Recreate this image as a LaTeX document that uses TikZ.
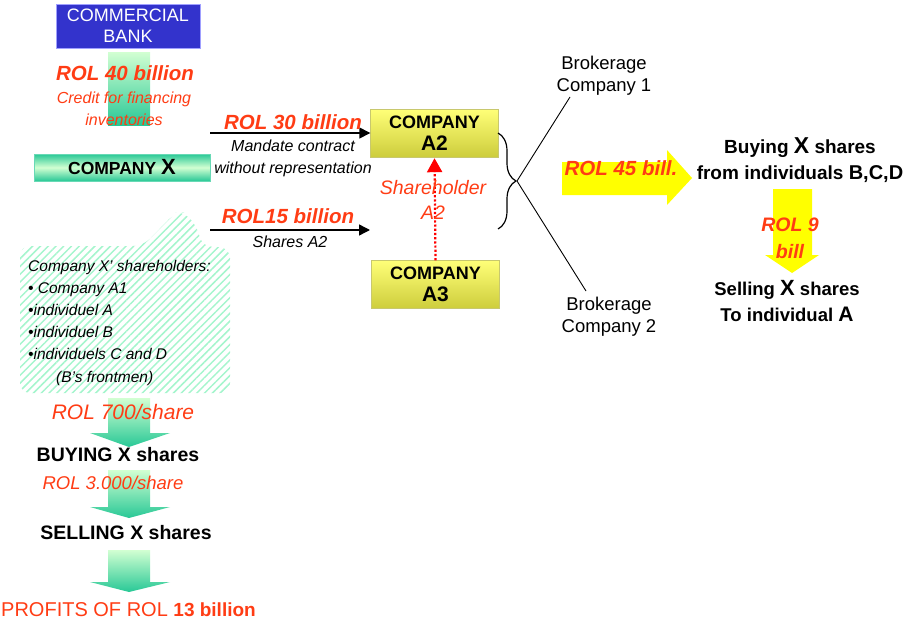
\documentclass[tikz,border=0pt]{standalone}
\usepackage{fontspec}
\setmainfont{Liberation Sans}
\usetikzlibrary{arrows.meta,decorations.pathreplacing,patterns.meta}
\definecolor{rolred}{RGB}{255,60,20}
\definecolor{bankblue}{RGB}{51,51,204}
\definecolor{bankedge}{RGB}{160,160,255}
\definecolor{lgreen}{RGB}{210,255,210}
\definecolor{dgreen}{RGB}{40,200,150}
\definecolor{hatchgreen}{RGB}{165,245,205}
\definecolor{ytop}{RGB}{255,255,120}
\definecolor{ybot}{RGB}{205,205,60}
\definecolor{yedge}{RGB}{200,200,110}
\definecolor{arrowyellow}{RGB}{255,255,0}
\newcommand\fsz[2]{\fontsize{#1}{#2}\selectfont}
\begin{document}
\begin{tikzpicture}[x=1pt,y=-1pt,
  bankbox/.style={draw=bankedge,fill=bankblue,text=white,minimum width=144pt,minimum height=44pt,inner sep=0pt,align=center,font=\fsz{18}{21}},
  cxbox/.style={top color=dgreen,bottom color=dgreen,middle color=lgreen,draw=dgreen!70,minimum width=176pt,minimum height=27pt,inner sep=0pt,font=\bfseries\fsz{17.5}{17.5}},
  ybox/.style={top color=ytop,bottom color=ybot,draw=yedge,minimum width=128pt,minimum height=48pt,inner sep=0pt,align=center,font=\bfseries\fsz{18}{22}},
  gshade/.style={top color=lgreen,bottom color=dgreen,draw=none},
  yarrow/.style={fill=arrowyellow,draw=none},
  roltxt/.style={text=rolred,font=\bfseries\itshape\fsz{20.5}{24},inner sep=0pt,align=center},
  redital/.style={text=rolred,font=\itshape\fsz{16}{22},inner sep=0pt,align=center},
  blktxt/.style={font=\itshape\fsz{16}{22},inner sep=0pt,align=center},
  brktxt/.style={font=\fsz{18.5}{22},inner sep=0pt,align=center},
  boldtxt/.style={font=\bfseries\fsz{19}{26},inner sep=0pt,align=center},
  blkarrow/.style={line width=1.4pt,-{Triangle[length=11pt,width=11pt]}},
  reddot/.style={draw=red,line width=2.2pt,dash pattern=on 2.2pt off 2pt,-{Triangle[length=14pt,width=15pt]}}
]
\useasboundingbox (0,0) rectangle (903,621);

% ---------- left column: bank -> company X
\node[bankbox] (bank) at (128,26) {COMMERCIAL\\BANK};
\fill[gshade] (108,52) rectangle (150,125);
\node[roltxt] (rol40) at (125,73) {ROL 40 billion};
\node[redital] (credit) at (124,109) {Credit for financing\\inventories};
\node[cxbox] (cx) at (122,167.5) {COMPANY {\fsz{22}{22}X}};

% ---------- callout with shareholders
\path[pattern={Lines[angle=45,distance=5.5pt,line width=1.5pt]},pattern color=hatchgreen,rounded corners=10pt]
  (20,246) -- (143,246) -- (176,212) -- (185,212) -- (199,230) -- (201,246) -- (230,248) -- (230,393) -- (20,393) -- cycle;
\node[font=\itshape\fsz{15.5}{22.2},inner sep=0pt,align=left,anchor=west] (holders) at (28,322.5)
  {Company X' shareholders:\\• Company A1\\•individuel A\\•individuel B\\•individuels C and D\\\hspace*{28pt}(B's frontmen)};

% ---------- bottom column
\path[gshade] (108,398) -- (150,398) -- (150,433) -- (170,433) -- (129,447) -- (90,433) -- (108,433) -- cycle;
\path[gshade] (108,470) -- (150,470) -- (150,507) -- (170,507) -- (129,518) -- (90,507) -- (108,507) -- cycle;
\path[gshade] (108,550) -- (150,550) -- (150,582) -- (170,582) -- (129,592) -- (90,582) -- (108,582) -- cycle;
\node[text=rolred,font=\itshape\fsz{21}{21},inner sep=0pt] (rol700) at (123,412) {ROL 700/share};
\node[boldtxt,font=\bfseries\fsz{19.5}{22}] (buyingx) at (118,455) {BUYING X shares};
\node[text=rolred,font=\itshape\fsz{18.5}{20},inner sep=0pt] (rol3000) at (113,483) {ROL 3.000/share};
\node[boldtxt,font=\bfseries\fsz{19.5}{22}] (sellingx) at (126,533) {SELLING X shares};
\node[text=rolred,font=\fsz{20}{22},inner sep=0pt] (profits) at (128.5,610) {PROFITS OF ROL {\bfseries\fsz{19}{22}13 billion}};

% ---------- companies A2 and A3
\node[ybox] (A2) at (434.5,133) {COMPANY\\{\fsz{21}{22}A2}};
\node[ybox] (A3) at (435.5,284.5) {COMPANY\\{\fsz{21}{22}A3}};

\coordinate (a1s) at (210,133);
\draw[blkarrow] (a1s) -- (A2.west);
\node[roltxt] (rol30) at (293,122) {ROL 30 billion};
\node[blktxt] (mandate) at (293,158) {Mandate contract\\without representation};

\coordinate (a2s) at (210,230);
\coordinate (a2e) at (370,230);
\draw[blkarrow] (a2s) -- (a2e);
\node[roltxt] (rol15) at (288,216) {ROL15 billion};
\node[blktxt] (sharesA2) at (290,242) {Shares A2};

\draw[reddot,shorten >=1pt] (A3.north) -- (A2.south);
\node[text=rolred,font=\itshape\fsz{19.5}{25},inner sep=0pt,align=center] (sholder) at (433,199.5) {Shareholder\\A2};

% ---------- brace and brokerage companies
\coordinate (bt) at (498,133);
\coordinate (bb) at (498,229);
\coordinate (btip) at (517,181);
\draw[line width=1.2pt,decorate,decoration={brace,amplitude=18pt,aspect=0.5}] (bt) -- (bb);
\node[brktxt] (bk1) at (604,76) {Brokerage\\Company 1};
\node[brktxt] (bk2) at (609,317) {Brokerage\\Company 2};
\coordinate (bk1end) at (570,97);
\coordinate (bk2end) at (586,291);
\draw[line width=0.9pt] (btip) -- (bk1end);
\draw[line width=0.9pt] (btip) -- (bk2end);

% ---------- right part
\path[yarrow] (562,162) -- (667,162) -- (667,150) -- (692,178) -- (667,205) -- (667,195) -- (562,195) -- cycle;
\node[roltxt] (rol45) at (621,168) {ROL 45 bill.};
\node[boldtxt] (buying) at (800,160) {Buying {\fsz{23}{26}X} shares\\from individuals {\fsz{20}{26}B,C,D}};
\path[yarrow] (773,189) -- (812,189) -- (812,255) -- (819,255) -- (792,273) -- (765,255) -- (773,255) -- cycle;
\node[roltxt,font=\bfseries\itshape\fsz{19.5}{27}] (rol9) at (790,238.5) {ROL 9\\bill};
\node[boldtxt,font=\bfseries\fsz{18.5}{26}] (selling) at (787,301.5) {Selling {\fsz{22}{26}X} shares\\To individual {\fsz{21}{26}A}};
\end{tikzpicture}
\end{document}
